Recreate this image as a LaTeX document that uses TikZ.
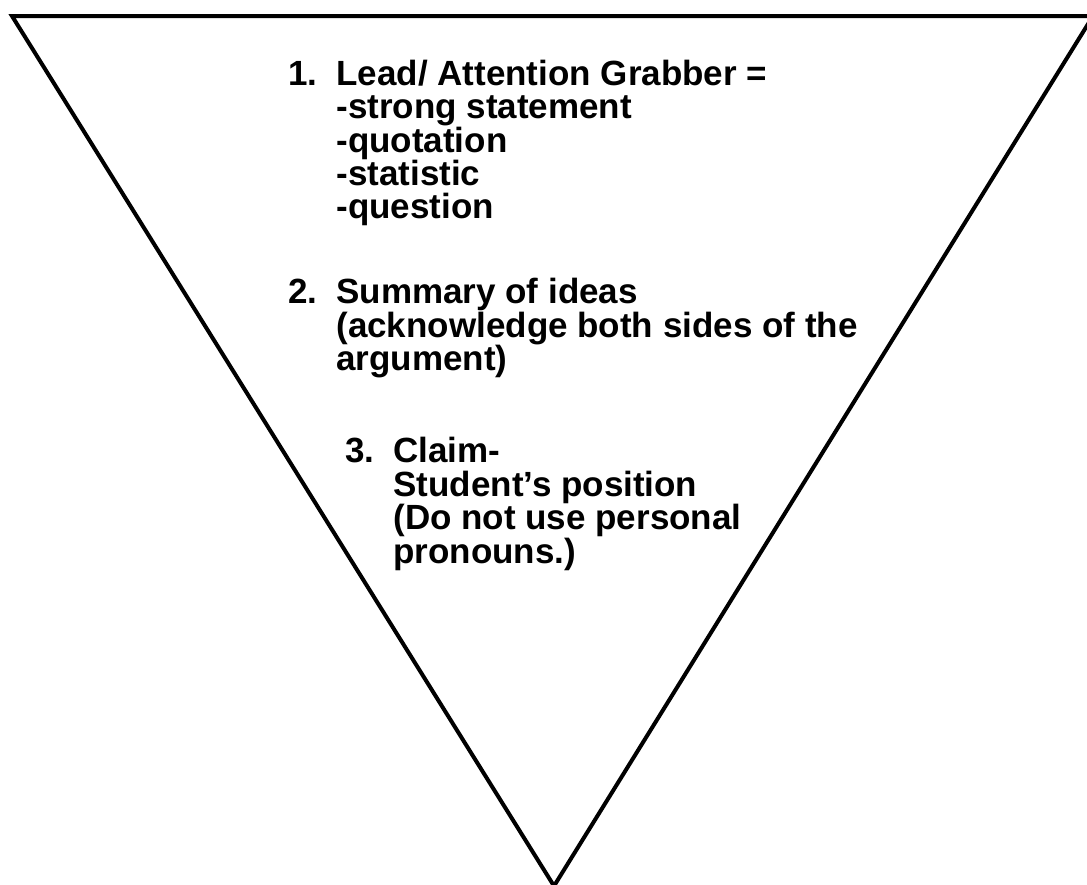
\documentclass[tikz,border=0pt]{standalone}
\usepackage{fontspec}
\setmainfont{Liberation Sans}
\begin{document}
\begin{tikzpicture}[x=0.5pt,y=-0.5pt,
  txt/.style={anchor=base west,inner sep=0pt,font=\fontsize{17.5}{17}\selectfont\bfseries},
  funnel/.style={draw=black,line width=2pt,line join=miter}]
\useasboundingbox (0,0) rectangle (1087,884);
\coordinate (tl) at (12,16);
\coordinate (tr) at (1093,16);
\coordinate (ap) at (554,886);
\draw[funnel] (tl) -- (tr) -- (ap) -- cycle;
% item 1
\node[txt] (n1) at (288,85) {1.};
\node[txt] (a1) at (336,85) {Lead/ Attention Grabber =};
\node[txt] (a2) at (336,118) {-strong statement};
\node[txt] (a3) at (336,152) {-quotation};
\node[txt] (a4) at (336,185) {-statistic};
\node[txt] (a5) at (336,218) {-question};
% item 2
\node[txt] (n2) at (288,303) {2.};
\node[txt] (b1) at (336,303) {Summary of ideas};
\node[txt] (b2) at (336,337) {(acknowledge both sides of the};
\node[txt] (b3) at (336,370) {argument)};
% item 3
\node[txt] (n3) at (345,462) {3.};
\node[txt] (c1) at (393,462) {Claim-};
\node[txt] (c2) at (393,496) {Student’s position};
\node[txt] (c3) at (393,529) {(Do not use personal};
\node[txt] (c4) at (393,563) {pronouns.)};
\end{tikzpicture}
\end{document}
